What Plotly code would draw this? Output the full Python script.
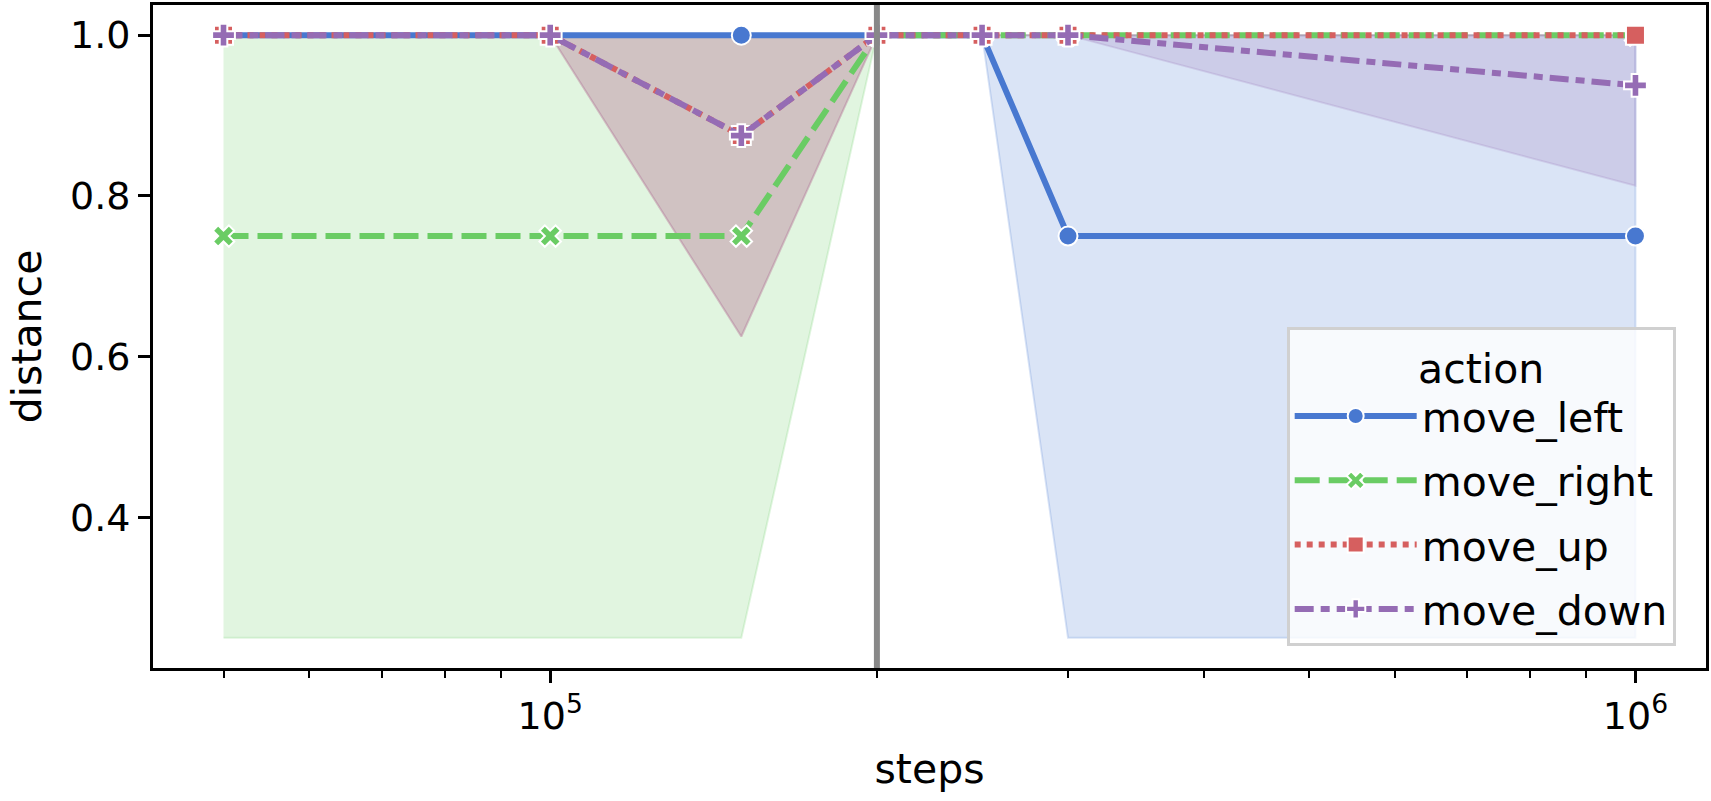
import plotly.graph_objects as go

steps = [50000, 100000, 150000, 200000, 250000, 300000, 1000000]
actions = ["move_left", "move_right", "move_up", "move_down"]

mean_left = [1.0, 1.0, 1.0, 1.0, 1.0, 0.75, 0.75]
low_left = [1.0, 1.0, 1.0, 1.0, 1.0, 0.25, 0.25]
high_left = [1.0, 1.0, 1.0, 1.0, 1.0, 1.0, 1.0]

mean_right = [0.75, 0.75, 0.75, 1.0, 1.0, 1.0, 1.0]
low_right = [0.25, 0.25, 0.25, 1.0, 1.0, 1.0, 1.0]
high_right = [1.0, 1.0, 1.0, 1.0, 1.0, 1.0, 1.0]

mean_up = [1.0, 1.0, 0.875, 1.0, 1.0, 1.0, 1.0]
low_up = [1.0, 1.0, 0.625, 1.0, 1.0, 1.0, 1.0]
high_up = [1.0, 1.0, 1.0, 1.0, 1.0, 1.0, 1.0]

mean_down = [1.0, 1.0, 0.875, 1.0, 1.0, 1.0, 0.9375]
low_down = [1.0, 1.0, 0.625, 1.0, 1.0, 1.0, 0.8125]
high_down = [1.0, 1.0, 1.0, 1.0, 1.0, 1.0, 1.0]

vline_step = 200000

y_tickvals = [0.4, 0.6, 0.8, 1.0]
y_ticktext = ["0.4", "0.6", "0.8", "1.0"]
x_tickvals = [1e5, 1e6]
x_ticktext = ["10<sup>5</sup>", "10<sup>6</sup>"]
x_minor = [5e4, 6e4, 7e4, 8e4, 9e4, 2e5, 3e5, 4e5, 5e5, 6e5, 7e5, 8e5, 9e5]

colors = ["#4878d0", "#6acc64", "#d65f5f", "#956cb4"]
rgb = [(72, 120, 208), (106, 204, 100), (214, 95, 95), (149, 108, 180)]
dashes = ["solid", "25px,9px", "6px,6px", "19px,7px,9px,7px"]
symbols = ["circle", "x", "square", "cross"]

means = [mean_left, mean_right, mean_up, mean_down]
lows = [low_left, low_right, low_up, low_down]
highs = [high_left, high_right, high_up, high_down]

fig = go.Figure()

for i in range(4):
    r, g, b = rgb[i]
    fig.add_trace(go.Scatter(
        x=steps + steps[::-1],
        y=highs[i] + lows[i][::-1],
        fill="toself",
        fillcolor=f"rgba({r},{g},{b},0.2)",
        line=dict(color=f"rgba({r},{g},{b},0.2)", width=2),
        mode="lines",
        showlegend=False,
        hoverinfo="skip",
    ))

for i in range(4):
    fig.add_trace(go.Scatter(
        x=steps,
        y=means[i],
        mode="lines+markers",
        name=actions[i],
        legendgroup=actions[i],
        line=dict(color=colors[i], width=6, dash=dashes[i]),
        marker=dict(symbol=symbols[i], size=19, color=colors[i],
                    line=dict(color="white", width=2)),
    ))

fig.add_shape(type="line", xref="x", yref="paper", x0=vline_step, x1=vline_step,
              y0=0, y1=1, line=dict(color="#888888", width=6), layer="above")

font = "DejaVu Sans, Verdana, sans-serif"
fig.update_layout(
    width=1711, height=801,
    margin=dict(l=153, r=4, t=2, b=133),
    paper_bgcolor="white", plot_bgcolor="white",
    font=dict(family=font, size=41, color="black"),
    legend=dict(
        title=dict(text="action", side="top center", font=dict(size=41)),
        x=0.73, y=0.515, xanchor="left", yanchor="top",
        bgcolor="rgba(255,255,255,0.8)", bordercolor="#d0d0d0", borderwidth=3,
        font=dict(size=41), itemwidth=122, tracegroupgap=8,
    ),
    xaxis=dict(
        type="log", range=[4.634, 6.065],
        tickmode="array", tickvals=x_tickvals, ticktext=x_ticktext,
        ticks="outside", ticklen=12, tickwidth=3, tickcolor="black",
        tickfont=dict(size=38),
        minor=dict(tickmode="array", tickvals=x_minor, ticks="outside",
                   ticklen=7, tickwidth=2, tickcolor="black", showgrid=False),
        showgrid=False, zeroline=False,
        showline=True, linecolor="black", linewidth=3, mirror=True,
        title=dict(text="steps", font=dict(size=41), standoff=18),
    ),
    yaxis=dict(
        range=[0.2125, 1.0375],
        tickmode="array", tickvals=y_tickvals, ticktext=y_ticktext,
        ticks="outside", ticklen=12, tickwidth=3, tickcolor="black",
        tickfont=dict(size=38),
        showgrid=False, zeroline=False,
        showline=True, linecolor="black", linewidth=3, mirror=True,
        title=dict(text="distance", font=dict(size=41), standoff=16),
    ),
)

fig.write_html("out.html")
